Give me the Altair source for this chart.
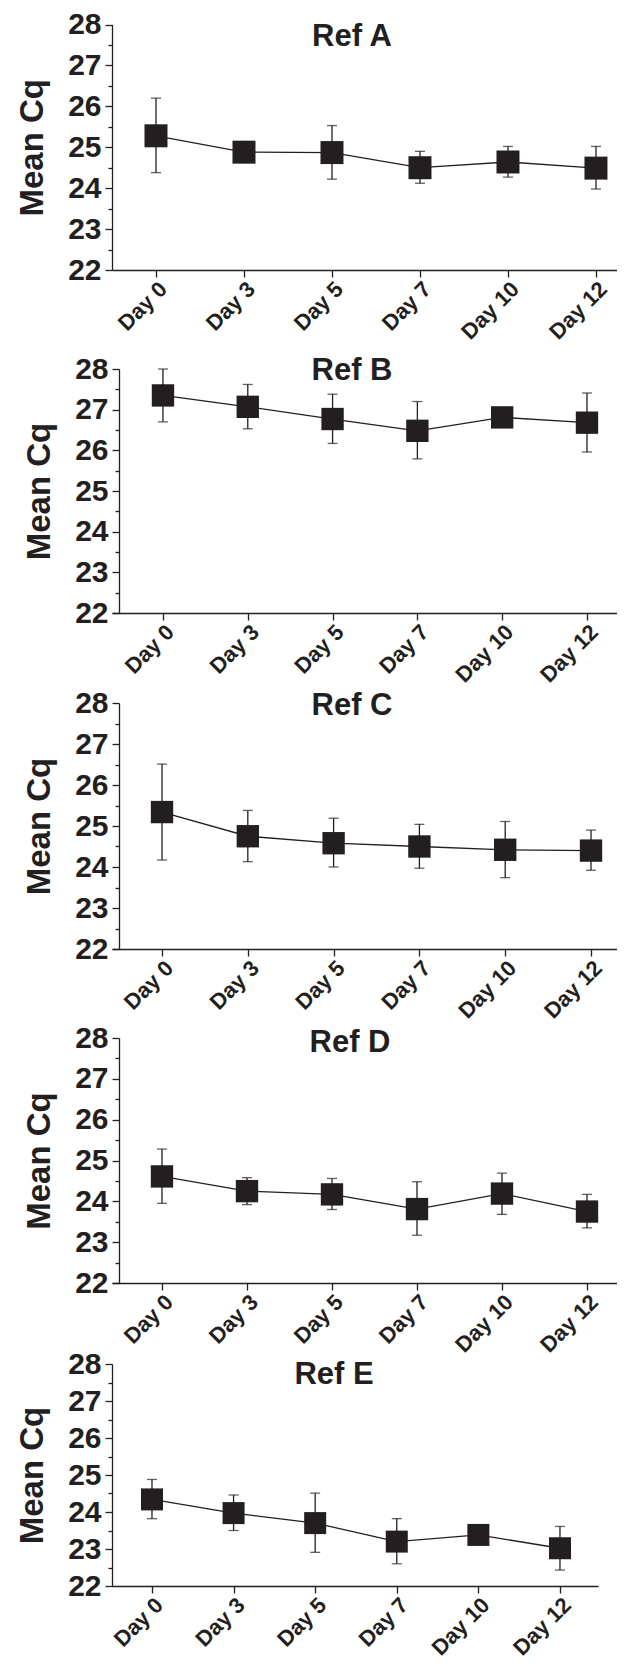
import altair as alt
import pandas as pd

# ---------------- data ----------------
days = ["Day 0", "Day 3", "Day 5", "Day 7", "Day 10", "Day 12"]
panel_titles = ["Ref A", "Ref B", "Ref C", "Ref D", "Ref E"]
y_ticks = [22, 22.5, 23, 23.5, 24, 24.5, 25, 25.5, 26, 26.5, 27, 27.5, 28]

mean_a = [25.28, 24.88, 24.87, 24.50, 24.64, 24.49]
upper_a = [26.20, 25.03, 25.53, 24.90, 25.02, 25.02]
lower_a = [24.38, 24.73, 24.22, 24.12, 24.27, 23.98]

mean_b = [27.35, 27.07, 26.77, 26.48, 26.81, 26.68]
upper_b = [28.00, 27.62, 27.38, 27.20, 26.96, 27.41]
lower_b = [26.70, 26.53, 26.17, 25.79, 26.66, 25.96]

mean_c = [25.34, 24.75, 24.58, 24.50, 24.42, 24.40]
upper_c = [26.51, 25.38, 25.19, 25.04, 25.11, 24.90]
lower_c = [24.17, 24.13, 24.00, 23.97, 23.74, 23.92]

mean_d = [24.61, 24.25, 24.17, 23.81, 24.19, 23.75]
upper_d = [25.28, 24.58, 24.56, 24.48, 24.69, 24.17]
lower_d = [23.95, 23.92, 23.80, 23.17, 23.68, 23.35]

mean_e = [24.34, 23.97, 23.70, 23.20, 23.38, 23.02]
upper_e = [24.88, 24.46, 24.51, 23.82, 23.53, 23.61]
lower_e = [23.82, 23.50, 22.91, 22.60, 23.23, 22.43]

series = [
    (mean_a, lower_a, upper_a),
    (mean_b, lower_b, upper_b),
    (mean_c, lower_c, upper_c),
    (mean_d, lower_d, upper_d),
    (mean_e, lower_e, upper_e),
]

# ---------------- layout / style ----------------
INK = "#231f20"
FONT = "Liberation Sans"

# per panel: plot width/height, y-range (pixel) top/bottom, x domain, y-axis offset,
# title position (plot coords), marker size
layout = [
    dict(w=505, h=262, top=16.5, bot=262, d0=-0.50, d1=5.239, off=0, tx=240, ty=28.7, size=529),
    dict(w=505, h=343, top=99, bot=343, d0=-0.601, d1=5.354, off=-7, tx=240, ty=101, size=500),
    dict(w=505, h=336, top=90, bot=336, d0=-0.583, d1=5.303, off=-7, tx=240, ty=92.8, size=500),
    dict(w=505, h=334, top=89, bot=334, d0=-0.588, d1=5.353, off=-7, tx=238, ty=94, size=500),
    dict(w=486, h=303, top=81, bot=303, d0=-0.49, d1=5.466, off=0, tx=222, ty=92, size=484),
]

label_expr = "[" + ",".join("'%s'" % d for d in days) + "][datum.value]"


def panel(title, mean, lo, hi, L):
    df = pd.DataFrame({"idx": list(range(len(days))), "day": days,
                       "mean": mean, "lo": lo, "hi": hi})
    xscale = alt.Scale(domain=[L["d0"], L["d1"]], nice=False, zero=False)
    yscale = alt.Scale(domain=[22, 28], range=[L["bot"], L["top"]], nice=False, zero=False)
    xaxis = alt.Axis(values=list(range(len(days))), labelExpr=label_expr,
                     labelAngle=-45, labelAlign="right", labelBaseline="top",
                     labelFontSize=22, labelFont=FONT, labelFontWeight="bold",
                     labelColor=INK, labelPadding=1, tickSize=7, tickColor=INK,
                     tickWidth=1.3, domainColor=INK, domainWidth=1.3, grid=False,
                     title=None)
    yaxis = alt.Axis(values=y_ticks,
                     labelExpr="datum.value % 1 ? '' : toString(datum.value)",
                     tickSize={"condition": {"test": "datum.value % 1 != 0", "value": 4}, "value": 7},
                     labelFontSize=30, labelFont=FONT, labelFontWeight="bold",
                     labelColor=INK, labelPadding=4, tickColor=INK, tickWidth=1.3,
                     domainColor=INK, domainWidth=1.3, grid=False, offset=L["off"],
                     title="Mean Cq", titleFontSize=33, titleFont=FONT,
                     titleFontWeight="bold", titleColor=INK, titlePadding=18)
    x = alt.X("idx:Q", scale=xscale, axis=xaxis)
    base = alt.Chart(df)
    rules = base.mark_rule(color=INK, strokeWidth=1.3).encode(
        x=x, y=alt.Y("lo:Q", scale=yscale, axis=yaxis), y2="hi:Q")
    cap_lo = base.mark_tick(orient="horizontal", size=10, thickness=1.3, color=INK).encode(
        x=x, y=alt.Y("lo:Q", scale=yscale, axis=yaxis))
    cap_hi = base.mark_tick(orient="horizontal", size=10, thickness=1.3, color=INK).encode(
        x=x, y=alt.Y("hi:Q", scale=yscale, axis=yaxis))
    line = base.mark_line(color=INK, strokeWidth=1.3).encode(
        x=x, y=alt.Y("mean:Q", scale=yscale, axis=yaxis))
    pts = base.mark_point(shape="square", filled=True, size=L["size"], color=INK, opacity=1).encode(
        x=x, y=alt.Y("mean:Q", scale=yscale, axis=yaxis))
    ttl = alt.Chart(pd.DataFrame({"t": [title]})).mark_text(
        font=FONT, fontSize=31, fontWeight="bold", color=INK,
        align="center", baseline="middle").encode(
        text="t:N", x=alt.value(L["tx"]), y=alt.value(L["ty"]))
    return alt.layer(rules, cap_lo, cap_hi, line, pts, ttl).properties(
        width=L["w"], height=L["h"])


panels = [panel(t, *s, L) for t, s, L in zip(panel_titles, series, layout)]

chart = alt.vconcat(*panels, spacing=0, bounds="flush").properties(
    padding={"left": 8, "top": 0, "right": 0, "bottom": 0}
).configure(
    font=FONT, background="white",
    view=alt.ViewConfig(strokeWidth=0, stroke="transparent"),
)

chart.save("out.html", embed_options={"renderer": "svg", "actions": False})
